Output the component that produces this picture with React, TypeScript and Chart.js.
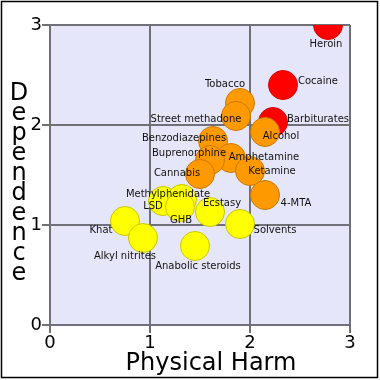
import React, { useEffect, useRef } from "react";
import { Chart, registerables } from "chart.js";

Chart.register(...registerables);

// ---- data ----
const drugs = [
  "Heroin", "Cocaine", "Tobacco", "Street methadone", "Barbiturates", "Alcohol",
  "Benzodiazepines", "Amphetamine", "Buprenorphine", "Ketamine", "Cannabis", "4-MTA",
  "LSD", "Methylphenidate", "GHB", "Ecstasy", "Khat", "Solvents", "Alkyl nitrites",
  "Anabolic steroids",
];
const physicalHarm = [
  2.78, 2.33, 1.9, 1.86, 2.23, 2.15,
  1.63, 1.81, 1.6, 2.0, 1.5, 2.15,
  1.13, 1.32, 1.3, 1.6, 0.75, 1.9, 0.93,
  1.45,
];
const dependence = [
  3.0, 2.4, 2.22, 2.09, 2.03, 1.93,
  1.84, 1.67, 1.65, 1.54, 1.51, 1.3,
  1.24, 1.26, 1.18, 1.13, 1.04, 1.01, 0.87,
  0.79,
];
// 0 = highest harm (red), 1 = medium (orange), 2 = lower (yellow)
const harmClass = [0, 0, 1, 1, 0, 1, 1, 1, 1, 1, 1, 1, 2, 2, 2, 2, 2, 2, 2, 2];
const xTicks = [0, 1, 2, 3];
const yTicks = [0, 1, 2, 3];
const xTitle = "Physical Harm";
const yTitle = "Dependence";

// ---- layout / style ----
const fills = ["#ff0000", "#ff9900", "#ffff00"];
const borders = ["#dd0000", "#cc7a00", "#c8c800"];
const labelOffsets: [number, number][] = [
  [-2, 19], [35, -4], [-15, -19], [-40, 3], [45, -3], [16, 4],
  [-29, -3], [33, -1], [-21, -7], [22, 0], [-23, -1], [31, 8],
  [-10, 5], [-14, -5], [1, 13], [12, -9], [-24, 9], [35, 6], [-18, 18],
  [3, 20],
];
const FONT = "'DejaVu Sans', sans-serif";
const GRID = "#707078";

const decor = {
  id: "decor",
  beforeDraw(chart: any) {
    const { ctx, chartArea: a } = chart;
    ctx.save();
    ctx.fillStyle = "#e6e6fa";
    ctx.fillRect(a.left, a.top, a.right - a.left, a.bottom - a.top);
    ctx.restore();
  },
  afterDatasetsDraw(chart: any) {
    const { ctx } = chart;
    const meta = chart.getDatasetMeta(0);
    ctx.save();
    ctx.font = `10px ${FONT}`;
    ctx.fillStyle = "#111";
    ctx.textAlign = "center";
    ctx.textBaseline = "middle";
    meta.data.forEach((pt: any, i: number) => {
      const [dx, dy] = labelOffsets[i];
      ctx.fillText(drugs[i], pt.x + dx, pt.y + dy);
    });
    ctx.restore();
  },
  afterDraw(chart: any) {
    const { ctx, chartArea: a } = chart;
    ctx.save();
    ctx.fillStyle = "#000";
    ctx.font = `24px ${FONT}`;
    ctx.textAlign = "center";
    ctx.textBaseline = "alphabetic";
    ctx.fillText(xTitle, 211, 370);
    const letters = yTitle.split("");
    letters.forEach((ch, i) => {
      ctx.fillText(ch, 19, 100 + i * 20);
    });
    ctx.strokeStyle = "#000";
    ctx.lineWidth = 1.5;
    ctx.strokeRect(1.5, 1.5, 376, 376);
    ctx.restore();
  },
};

export default function App() {
  const ref = useRef<HTMLCanvasElement | null>(null);
  useEffect(() => {
    document.body.style.margin = "0";
    if (!ref.current) return;
    const chart = new Chart(ref.current, {
      type: "scatter",
      data: {
        datasets: [
          {
            data: physicalHarm.map((x, i) => ({ x, y: dependence[i] })),
            backgroundColor: harmClass.map((c) => fills[c]),
            borderColor: harmClass.map((c) => borders[c]),
            borderWidth: 1,
            pointRadius: 14.5,
            pointHoverRadius: 14.5,
            clip: 0,
          },
        ],
      },
      options: {
        animation: false,
        responsive: true,
        maintainAspectRatio: false,
        events: [],
        layout: { padding: { top: 25, right: 30, left: 0, bottom: 0 } },
        plugins: { legend: { display: false }, tooltip: { enabled: false } },
        scales: {
          x: {
            type: "linear",
            min: 0,
            max: 3,
            afterBuildTicks: (s: any) => {
              s.ticks = xTicks.map((v) => ({ value: v }));
            },
            afterFit: (s: any) => {
              s.height = 55;
            },
            ticks: { font: { family: FONT, size: 18 }, color: "#000", padding: 0 },
            grid: { color: GRID, lineWidth: 2, tickLength: 8 },
            border: { display: false },
          },
          y: {
            type: "linear",
            min: 0,
            max: 3,
            afterBuildTicks: (s: any) => {
              s.ticks = yTicks.map((v) => ({ value: v }));
            },
            afterFit: (s: any) => {
              s.width = 50;
            },
            ticks: { font: { family: FONT, size: 18 }, color: "#000", padding: 0 },
            grid: { color: GRID, lineWidth: 2, tickLength: 8 },
            border: { display: false },
          },
        },
      },
      plugins: [decor],
    });
    return () => chart.destroy();
  }, []);
  return (
    <div style={{ width: 380, height: 380, position: "relative" }}>
      <canvas ref={ref} />
    </div>
  );
}
